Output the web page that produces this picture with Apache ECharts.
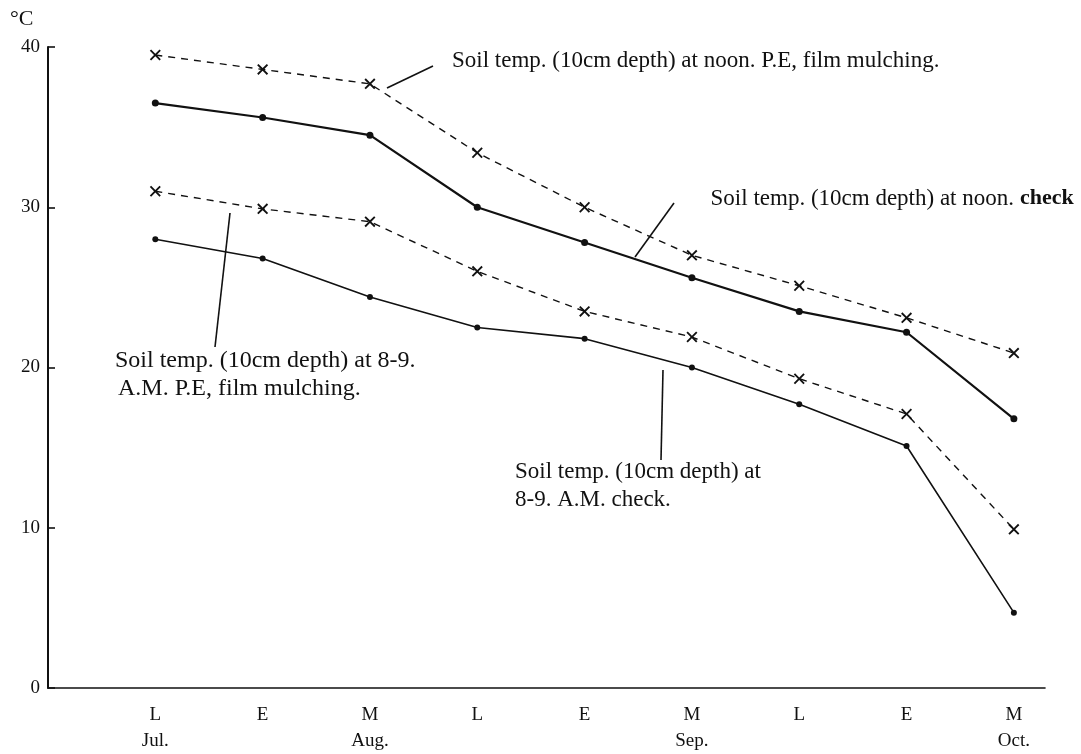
<!DOCTYPE html>
<html>
<head>
<meta charset="utf-8">
<script src="https://cdn.jsdelivr.net/npm/echarts@6/dist/echarts.min.js"></script>
<style>html,body{margin:0;padding:0;background:#fff}#c{width:1081px;height:754px}</style>
</head>
<body>
<div id="c"></div>
<script>
// Periods (L = late, E = early, M = mid) and months
var periods = ['L', 'E', 'M', 'L', 'E', 'M', 'L', 'E', 'M'];
var months  = ['Jul.', '', 'Aug.', '', '', 'Sep.', '', '', 'Oct.'];
var yTicks = [0, 10, 20, 30, 40];

// Soil temperature (10cm depth), °C
var noonPE    = [39.5, 38.6, 37.7, 33.4, 30.0, 27.0, 25.1, 23.1, 20.9];
var noonCheck = [36.5, 35.6, 34.5, 30.0, 27.8, 25.6, 23.5, 22.2, 16.8];
var amPE      = [31.0, 29.9, 29.1, 26.0, 23.5, 21.9, 19.3, 17.1, 9.9];
var amCheck   = [28.0, 26.8, 24.4, 22.5, 21.8, 20.0, 17.7, 15.1, 4.7];

function pts(arr) { return arr.map(function (v, i) { return [i, v]; }); }

var SERIF = '"Liberation Serif", "DejaVu Serif", serif';
var FS = 23;
var crossPath = 'path://M0,1.2L1.2,0L5,3.8L8.8,0L10,1.2L6.2,5L10,8.8L8.8,10L5,6.2L1.2,10L0,8.8L3.8,5Z';

var chart = echarts.init(document.getElementById('c'), null, {renderer: 'canvas'});
var option = {
  backgroundColor: '#ffffff',
  animation: false,
  grid: {left: 48, top: 47, right: 36, bottom: 58, containLabel: false},
  xAxis: {
    type: 'value',
    min: -1, max: 8.29, interval: 1,
    axisLine: {onZero: false, lineStyle: {color: '#111', width: 1.6}},
    axisTick: {show: false},
    splitLine: {show: false},
    axisLabel: {
      showMaxLabel: false, showMinLabel: false,
      margin: 14, lineHeight: 26,
      color: '#111', fontFamily: SERIF, fontSize: 19,
      formatter: function (v) {
        var i = Math.round(v);
        if (Math.abs(v - i) > 1e-6 || i < 0 || i >= periods.length) return '';
        return months[i] ? periods[i] + '\n' + months[i] : periods[i];
      }
    }
  },
  yAxis: {
    type: 'value',
    min: yTicks[0], max: yTicks[yTicks.length - 1], interval: 10,
    axisLine: {show: true, onZero: false, lineStyle: {color: '#111', width: 2}},
    axisTick: {show: true, inside: true, length: 7, lineStyle: {color: '#111', width: 1.6}},
    splitLine: {show: false},
    axisLabel: {color: '#111', fontFamily: SERIF, fontSize: 19, margin: 8}
  },
  series: [
    {
      name: 'noonPE', type: 'line', data: pts(noonPE),
      symbol: crossPath, symbolSize: 11,
      itemStyle: {color: '#111'},
      lineStyle: {color: '#111', width: 1.4, type: [7, 6]}
    },
    {
      name: 'noonCheck', type: 'line', data: pts(noonCheck),
      symbol: 'circle', symbolSize: 7,
      itemStyle: {color: '#111'},
      lineStyle: {color: '#111', width: 2.2}
    },
    {
      name: 'amPE', type: 'line', data: pts(amPE),
      symbol: crossPath, symbolSize: 11,
      itemStyle: {color: '#111'},
      lineStyle: {color: '#111', width: 1.4, type: [7, 6]}
    },
    {
      name: 'amCheck', type: 'line', data: pts(amCheck),
      symbol: 'circle', symbolSize: 6,
      itemStyle: {color: '#111'},
      lineStyle: {color: '#111', width: 1.6}
    }
  ],
  graphic: [
    {type: 'text', left: 10, top: 8, style: {text: '°C', font: '22px ' + SERIF, fill: '#111'}},
    // Annotation 1
    {type: 'line', shape: {x1: 387, y1: 88, x2: 433, y2: 66}, style: {stroke: '#111', lineWidth: 1.6}},
    {type: 'text', style: {x: 452, y: 61, text: 'Soil temp. (10cm depth) at noon. P.E, film mulching.', font: FS + 'px ' + SERIF, fill: '#111', verticalAlign: 'middle'}},
    // Annotation 2
    {type: 'line', shape: {x1: 635, y1: 257, x2: 674, y2: 203}, style: {stroke: '#111', lineWidth: 1.6}},
    {type: 'text', style: {x: 1014, y: 199, text: 'Soil temp. (10cm depth) at noon.', font: FS + 'px ' + SERIF, fill: '#111', align: 'right', verticalAlign: 'middle'}},
    {type: 'text', style: {x: 1020, y: 198, text: 'check', font: 'bold 22px ' + SERIF, fill: '#111', align: 'left', verticalAlign: 'middle'}},
    // Annotation 3
    {type: 'line', shape: {x1: 215, y1: 347, x2: 230, y2: 213}, style: {stroke: '#111', lineWidth: 1.6}},
    {type: 'text', style: {x: 115, y: 361, text: 'Soil temp. (10cm depth) at 8-9.', font: '24px ' + SERIF, fill: '#111', verticalAlign: 'middle'}},
    {type: 'text', style: {x: 118, y: 389, text: 'A.M. P.E, film mulching.', font: '24px ' + SERIF, fill: '#111', verticalAlign: 'middle'}},
    // Annotation 4
    {type: 'line', shape: {x1: 663, y1: 370, x2: 661, y2: 460}, style: {stroke: '#111', lineWidth: 1.6}},
    {type: 'text', style: {x: 515, y: 472, text: 'Soil temp. (10cm depth) at', font: FS + 'px ' + SERIF, fill: '#111', verticalAlign: 'middle'}},
    {type: 'text', style: {x: 515, y: 500, text: '8-9. A.M. check.', font: FS + 'px ' + SERIF, fill: '#111', verticalAlign: 'middle'}}
  ]
};
chart.setOption(option);
</script>
</body>
</html>
